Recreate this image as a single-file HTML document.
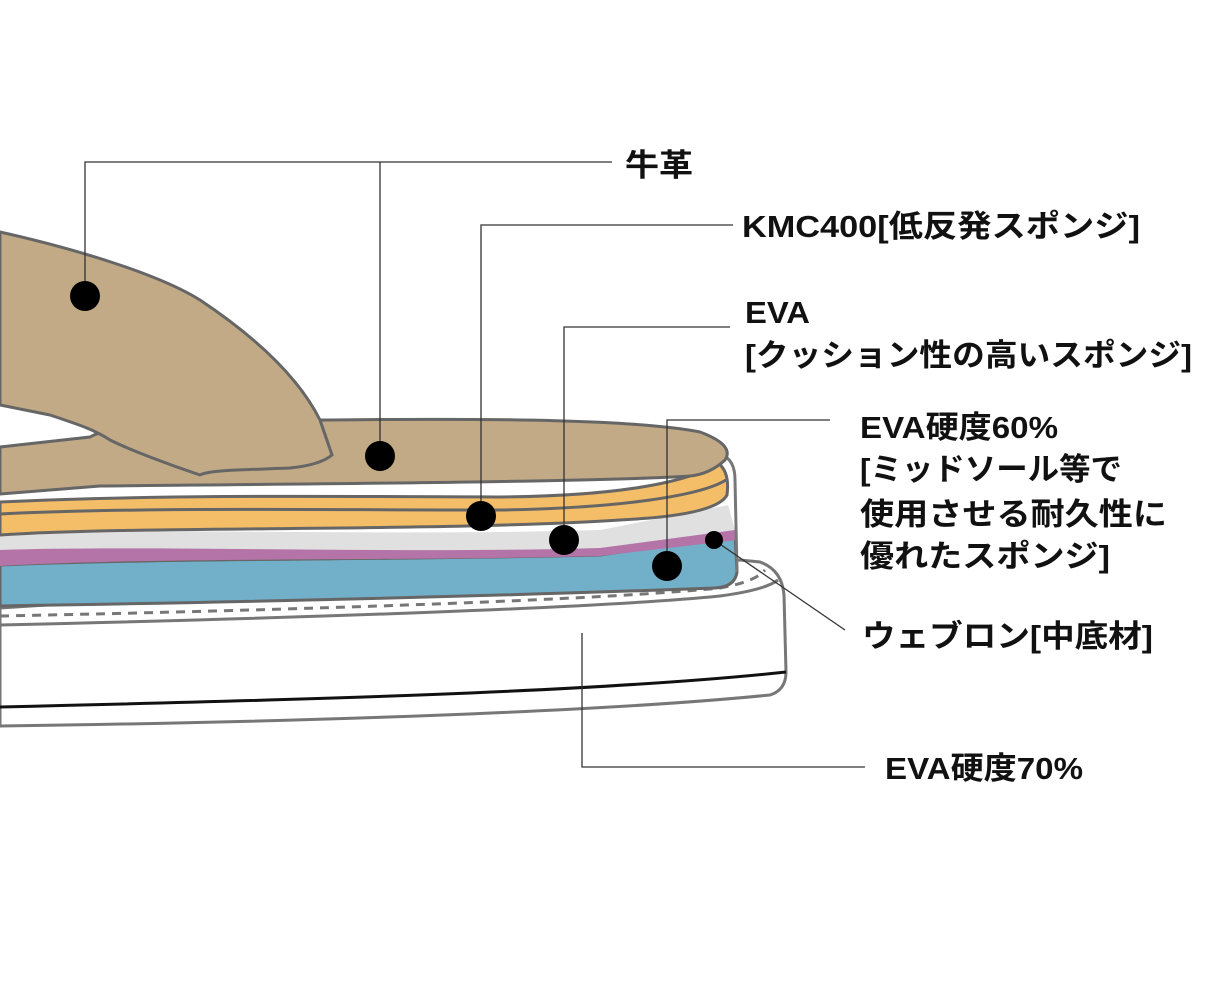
<!DOCTYPE html>
<html><head><meta charset="utf-8"><style>
html,body{margin:0;padding:0;background:#fff;}
svg{display:block;}
text{font-family:"Liberation Sans","Noto Sans CJK JP",sans-serif;font-size:31px;font-weight:bold;fill:#111;}
</style></head><body>
<svg width="1231" height="1000" viewBox="0 0 1231 1000" xmlns="http://www.w3.org/2000/svg">
<!-- outsole -->
<path d="M0,608 L0,726 C300,722 600,712 770,695 Q786,690 786,672 L784,595 Q782,570 760,562 L740,560 L0,608 Z" fill="#fff" stroke="#777" stroke-width="3"/>
<path d="M0,625 C300,618 600,608 720,596 Q765,590 778,580" fill="none" stroke="#777" stroke-width="3"/>
<path d="M0,616 C300,610 600,600 720,588 Q755,582 765,570" fill="none" stroke="#777" stroke-width="3" stroke-dasharray="9,7"/>
<path d="M0,707 C300,700 600,692 786,672" fill="none" stroke="#111" stroke-width="3"/>
<!-- blue -->
<path d="M0,565 C150,558 400,560 600,555 L735,535 L737,572 Q735,587 715,588 C500,596 250,602 0,606 Z" fill="#72afc8" stroke="#666" stroke-width="3"/>
<!-- purple -->
<path d="M0,548 C150,543 400,552 600,546 L735,528 L737,540 L600,556 C400,561 150,557 0,566 Z" fill="#b474a8"/>
<!-- gray -->
<path d="M0,533 C150,528 400,536 600,530 L728,505 L735,530 L600,548 C400,554 150,545 0,550 Z" fill="#e0e0e0"/>
<!-- outer heel wall -->
<path d="M722,455 Q735,460 735,480 L737,572" fill="none" stroke="#777" stroke-width="3"/>
<!-- orange -->
<path d="M0,502 C150,495 300,496 500,497 C620,496 690,482 718,463 Q730,472 727,495 Q718,512 650,518 C450,533 150,525 0,535 Z" fill="#f4bd68" stroke="#666" stroke-width="3"/>
<path d="M0,514 C150,507 300,510 500,510 C620,508 700,496 726,480" fill="none" stroke="#666" stroke-width="3"/>
<!-- tan insole -->
<path d="M0,447 L90,437 C120,420 250,420 330,420 C500,418 640,420 700,432 Q735,445 725,460 Q710,474 690,476 C600,482 300,484 100,486 L0,494 Z" fill="#c2aa86" stroke="#666" stroke-width="3"/>
<!-- strap -->
<path d="M0,232 C80,250 160,275 200,300 C260,340 300,380 320,420 L332,455 Q320,465 290,468 C240,470 210,470 200,475 C170,465 130,450 110,440 C95,430 80,425 50,415 L0,405 Z" fill="#c2aa86" stroke="#666" stroke-width="3"/>
<!-- leader lines -->
<g stroke="#333" stroke-width="1.3" fill="none">
<path d="M85,296 V162 H612 M380,456 V162"/>
<path d="M481,516 V225 H733"/>
<path d="M564,540 V327 H730"/>
<path d="M667,566 V420 H830"/>
<path d="M714,540 L845,630"/>
<path d="M582,633 V767 H865"/>
</g>
<g fill="#000">
<circle cx="85" cy="296" r="15"/>
<circle cx="380" cy="456" r="15"/>
<circle cx="481" cy="516" r="15"/>
<circle cx="564" cy="540" r="15"/>
<circle cx="667" cy="566" r="15"/>
<circle cx="714" cy="540" r="9"/>
</g>
<text x="625" y="176" textLength="68" lengthAdjust="spacingAndGlyphs">牛革</text>
<text x="742" y="237" textLength="398" lengthAdjust="spacingAndGlyphs">KMC400[低反発スポンジ]</text>
<text x="745" y="323" textLength="65" lengthAdjust="spacingAndGlyphs">EVA</text>
<text x="745" y="366" textLength="447" lengthAdjust="spacingAndGlyphs">[クッション性の高いスポンジ]</text>
<text x="860" y="438" textLength="198" lengthAdjust="spacingAndGlyphs">EVA硬度60%</text>
<text x="860" y="480" textLength="262" lengthAdjust="spacingAndGlyphs">[ミッドソール等で</text>
<text x="860" y="525" textLength="307" lengthAdjust="spacingAndGlyphs">使用させる耐久性に</text>
<text x="860" y="567" textLength="250" lengthAdjust="spacingAndGlyphs">優れたスポンジ]</text>
<text x="862" y="647" textLength="291" lengthAdjust="spacingAndGlyphs">ウェブロン[中底材]</text>
<text x="885" y="779" textLength="198" lengthAdjust="spacingAndGlyphs">EVA硬度70%</text>
</svg>
</body></html>
